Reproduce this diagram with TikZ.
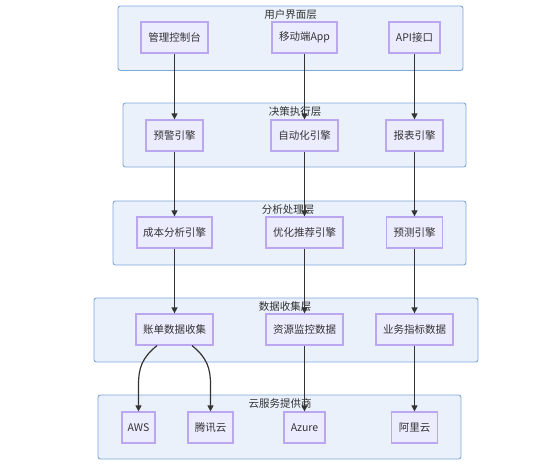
\documentclass[tikz,border=0pt]{standalone}
\usepackage{fontspec}
\setmainfont{Noto Sans CJK SC}
\usetikzlibrary{arrows.meta}
\definecolor{clfill}{HTML}{EAF1FB}
\definecolor{cldraw}{HTML}{7FA7D9}
\definecolor{ndfill}{HTML}{ECECFF}
\definecolor{nddraw}{HTML}{BBA7F0}
\definecolor{txt}{HTML}{333333}
\begin{document}
\begin{tikzpicture}[x=1pt,y=-1pt,
  cluster/.style={draw=cldraw, fill=clfill, rounded corners=2.5pt, line width=0.9pt, inner sep=0pt},
  ttl/.style={text=txt, font=\fontsize{10.5}{12}\selectfont, inner sep=0pt},
  nd/.style={draw=nddraw, fill=ndfill, line width=1.2pt, inner sep=0pt, minimum height=31pt, text=txt, font=\fontsize{10.5}{12}\selectfont},
  arr/.style={draw=txt, line width=1.2pt, -{Triangle[length=6pt,width=6pt]}}]
\useasboundingbox (0,0) rectangle (542,471);
% clusters
\node[cluster, minimum width=345pt, minimum height=64.5pt] (L1) at (290.5,38.25) {};
\node[cluster, minimum width=343pt, minimum height=64pt] (L2) at (294.5,135) {};
\node[cluster, minimum width=353pt, minimum height=64pt] (L3) at (289.5,233) {};
\node[cluster, minimum width=384pt, minimum height=64pt] (L4) at (286,330) {};
\node[cluster, minimum width=363pt, minimum height=64pt] (L5) at (279.5,427) {};
\node[ttl] (T1) at (290.5,15) {用户界面层};
\node[ttl] (T2) at (295,112) {决策执行层};
\node[ttl] (T3) at (288,210) {分析处理层};
\node[ttl] (T4) at (285,307) {数据收集层};
\node[ttl] (T5) at (280,404) {云服务提供商};
% layer 1
\node[nd, minimum width=67pt] (n11) at (174.5,37.5) {管理控制台};
\node[nd, minimum width=65pt] (n12) at (304.5,37.5) {移动端App};
\node[nd, minimum width=51pt] (n13) at (414.5,37.5) {API接口};
% layer 2
\node[nd, minimum width=57pt] (n21) at (174.5,135.5) {预警引擎};
\node[nd, minimum width=67pt] (n22) at (304.5,135.5) {自动化引擎};
\node[nd, minimum width=57pt] (n23) at (414.5,135.5) {报表引擎};
% layer 3
\node[nd, minimum width=75pt] (n31) at (174.5,232.5) {成本分析引擎};
\node[nd, minimum width=77pt] (n32) at (304.5,232.5) {优化推荐引擎};
\node[nd, minimum width=56pt] (n33) at (414.5,232.5) {预测引擎};
% layer 4
\node[nd, minimum width=77pt] (n41) at (174.5,329.5) {账单数据收集};
\node[nd, minimum width=77pt] (n42) at (304.5,329.5) {资源监控数据};
\node[nd, minimum width=77pt] (n43) at (414.5,329.5) {业务指标数据};
% layer 5
\node[nd, minimum width=33pt] (n51) at (138.5,427.5) {AWS};
\node[nd, minimum width=45pt] (n52) at (210.5,427.5) {腾讯云};
\node[nd, minimum width=41pt] (n53) at (304.5,427.5) {Azure};
\node[nd, minimum width=46pt] (n54) at (414.5,427.5) {阿里云};
% edges
\draw[arr] (n11) -- (n21);
\draw[arr] (n12) -- (n22);
\draw[arr] (n13) -- (n23);
\draw[arr] (n21) -- (n31);
\draw[arr] (n22) -- (n32);
\draw[arr] (n23) -- (n33);
\draw[arr] (n31) -- (n41);
\draw[arr] (n32) -- (n42);
\draw[arr] (n33) -- (n43);
\draw[arr] ([xshift=-17.5pt]n41.south) .. controls +(-15,12) and +(0,-16) .. ([yshift=27pt]n51.north) -- (n51.north);
\draw[arr] ([xshift=17.5pt]n41.south) .. controls +(15,12) and +(0,-16) .. ([yshift=27pt]n52.north) -- (n52.north);
\draw[arr] (n42) -- (n53);
\draw[arr] (n43) -- (n54);
\end{tikzpicture}
\end{document}
